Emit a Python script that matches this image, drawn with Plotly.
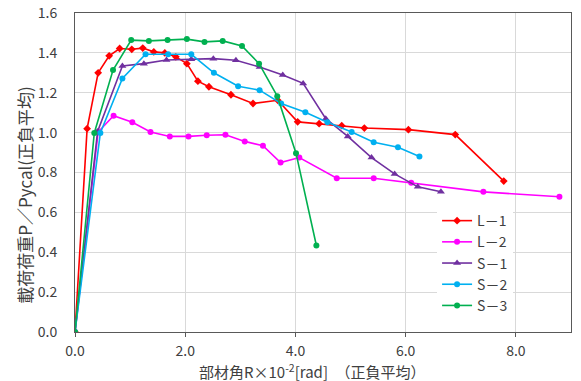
import plotly.graph_objects as go

# L-1
l1_x = [0, 0.22, 0.42, 0.62, 0.81, 1.03, 1.23, 1.43, 1.63, 1.83, 2.03, 2.23, 2.43, 2.83, 3.23, 3.68, 4.04, 4.43, 4.84, 5.25, 6.05, 6.90, 7.78]
l1_y = [0, 1.02, 1.30, 1.385, 1.422, 1.418, 1.424, 1.405, 1.40, 1.38, 1.346, 1.258, 1.23, 1.19, 1.146, 1.162, 1.054, 1.045, 1.035, 1.023, 1.015, 0.99, 0.757]
# L-2
l2_x = [0, 0.42, 0.70, 1.04, 1.37, 1.72, 2.06, 2.39, 2.73, 3.08, 3.41, 3.73, 4.07, 4.75, 5.42, 6.10, 7.41, 8.79]
l2_y = [0, 1.003, 1.085, 1.052, 1.003, 0.981, 0.981, 0.987, 0.989, 0.956, 0.934, 0.85, 0.875, 0.771, 0.771, 0.749, 0.703, 0.678]
# S-1
s1_x = [0, 0.41, 0.86, 1.25, 1.66, 2.11, 2.51, 2.92, 3.35, 3.77, 4.14, 4.55, 4.95, 5.38, 5.80, 6.22, 6.64]
s1_y = [0, 1.006, 1.334, 1.346, 1.364, 1.368, 1.371, 1.363, 1.329, 1.289, 1.247, 1.07, 0.981, 0.875, 0.793, 0.728, 0.703]
# S-2
s2_x = [0, 0.46, 0.86, 1.28, 1.69, 2.11, 2.52, 2.96, 3.35, 3.74, 4.18, 4.58, 5.02, 5.42, 5.86, 6.25]
s2_y = [0, 0.998, 1.272, 1.393, 1.393, 1.393, 1.30, 1.233, 1.213, 1.146, 1.102, 1.052, 1.003, 0.952, 0.927, 0.88]
# S-3
s3_x = [0, 0.35, 0.69, 1.02, 1.34, 1.68, 2.03, 2.35, 2.68, 3.03, 3.34, 3.67, 4.01, 4.38]
s3_y = [0, 0.998, 1.314, 1.464, 1.46, 1.465, 1.469, 1.455, 1.46, 1.435, 1.346, 1.183, 0.897, 0.434]

names = ["L－1", "L－2", "S－1", "S－2", "S－3"]
colors = ["#FF0000", "#FF00FF", "#7030A0", "#00B0F0", "#00B050"]
symbols = ["diamond", "circle", "triangle-up", "circle", "circle"]
sizes = [6, 6, 7, 6, 6]
xs = [l1_x, l2_x, s1_x, s2_x, s3_x]
ys = [l1_y, l2_y, s1_y, s2_y, s3_y]

x_title = "部材角R×10<sup>-2</sup>[rad]　（正負平均）"
y_title = "載荷荷重P／Pycal(正負平均)"

font = "Noto Sans CJK JP, Noto Sans, sans-serif"
fig = go.Figure()
for n, c, s, sz, x, y in zip(names, colors, symbols, sizes, xs, ys):
    fig.add_trace(go.Scatter(x=x, y=y, name=n, mode="lines+markers",
                             line=dict(color=c, width=1.6),
                             marker=dict(color=c, symbol=s, size=sz)))

fig.update_layout(
    width=581, height=381,
    margin=dict(l=75, r=10, t=13, b=49, autoexpand=False),
    paper_bgcolor="white", plot_bgcolor="white",
    font=dict(family=font, size=14, color="#404040"),
    showlegend=True,
    legend=dict(x=0.73, y=0.398, xanchor="left", yanchor="top",
                bgcolor="white", font=dict(size=14, color="#404040"),
                itemwidth=30, tracegroupgap=0),
    annotations=[
        dict(text=x_title, xref="paper", yref="paper", x=0.478, y=0,
             yshift=-39, xanchor="center", yanchor="middle", showarrow=False,
             font=dict(size=15, color="#404040")),
        dict(text=y_title, xref="paper", yref="paper", x=0, xshift=-50, y=0.43,
             xanchor="center", yanchor="middle", textangle=-90, showarrow=False,
             font=dict(size=17, color="#404040")),
    ],
)
fig.update_xaxes(range=[0, 9.0], dtick=2.0, tick0=0, tickformat=".1f",
                 automargin=False, ticklabelstandoff=2,
                 showgrid=True, gridcolor="#D9D9D9", zeroline=False,
                 showline=True, linecolor="#595959", linewidth=1, mirror=True,
                 ticks="outside", ticklen=4, tickcolor="#595959")
fig.update_yaxes(range=[0, 1.6], dtick=0.2, tick0=0, tickformat=".1f",
                 automargin=False, ticklabelstandoff=14,
                 showgrid=True, gridcolor="#D9D9D9", zeroline=False,
                 showline=True, linecolor="#595959", linewidth=1, mirror=True,
                 ticks="")

fig.write_html("out.html", config={"displayModeBar": False},
               post_script="document.body.style.margin='0';")
